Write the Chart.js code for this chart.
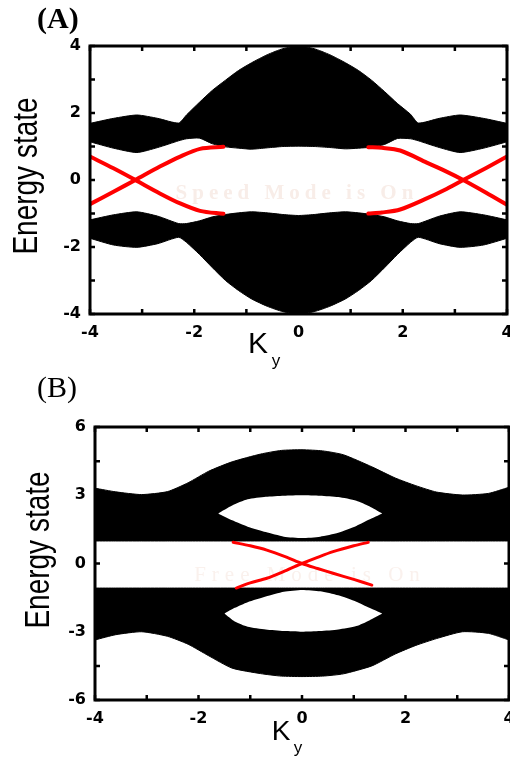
<!DOCTYPE html>
<html>
<head>
<meta charset="utf-8">
<script src="https://cdn.jsdelivr.net/npm/chart.js@4.4.1/dist/chart.umd.min.js"></script>
<style>
  html, body { margin: 0; padding: 0; background: #fff; }
  #wrap { position: relative; width: 510px; height: 757px; overflow: hidden; }
  canvas { position: absolute; left: 0; }
  #panelA { top: 0; }
  #panelB { top: 370px; }
</style>
</head>
<body>
<div id="wrap">
  <canvas id="panelA" width="510" height="375"></canvas>
  <canvas id="panelB" width="510" height="387"></canvas>
</div>
<script>
/* ---------- panel A : band edges ---------- */
const kxA = [-4, -3.55, -3.1, -2.7, -2.3, -2.15, -1.9, -1.65, -1.4, -1.15, -0.9, -0.6, -0.3, 0,
             0.3, 0.6, 0.9, 1.15, 1.4, 1.65, 1.9, 2.15, 2.3, 2.7, 3.1, 3.55, 4];
const upperTopA = [1.69, 1.84, 1.94, 1.84, 1.70, 1.94, 2.32, 2.68, 2.98, 3.27, 3.50, 3.74, 3.92, 4.00,
                   3.92, 3.74, 3.50, 3.27, 2.98, 2.64, 2.28, 1.96, 1.70, 1.84, 1.94, 1.84, 1.69];
const upperBotA = [1.14, 0.95, 0.82, 0.97, 1.17, 1.23, 1.25, 1.08, 0.99, 0.95, 0.92, 0.96, 1.00, 1.01,
                   1.00, 0.97, 0.93, 0.95, 0.98, 1.06, 1.24, 1.23, 1.17, 0.97, 0.82, 0.95, 1.14];
const lowerTopA = [-1.19, -1.04, -0.95, -1.08, -1.30, -1.30, -1.22, -1.10, -1.03, -0.98, -0.95, -0.98, -1.03, -1.06,
                   -1.03, -0.98, -0.95, -0.98, -1.03, -1.10, -1.22, -1.30, -1.30, -1.08, -0.95, -1.04, -1.19];
const lowerBotA = [-1.74, -1.94, -2.01, -1.90, -1.71, -1.86, -2.22, -2.62, -3.00, -3.30, -3.55, -3.77, -3.93, -4.00,
                   -3.93, -3.77, -3.55, -3.30, -3.00, -2.62, -2.22, -1.86, -1.71, -1.90, -2.01, -1.94, -1.74];

// edge states (red)
const edgeA1x = [-4, -3.55, -3.13, -2.66, -2.27, -1.89, -1.44];
const edgeA1y = [0.70, 0.35, 0, -0.40, -0.70, -0.92, -1.01];
const edgeA2x = [-4, -3.55, -3.13, -2.66, -2.27, -1.89, -1.44];
const edgeA2y = [-0.72, -0.35, 0, 0.40, 0.70, 0.93, 0.99];
const edgeA3x = [1.34, 1.6, 1.95, 2.46, 2.8, 3.16, 3.6, 4];
const edgeA3y = [0.98, 0.96, 0.88, 0.52, 0.28, 0, -0.38, -0.74];
const edgeA4x = [1.34, 1.6, 1.95, 2.46, 2.8, 3.16, 3.6, 4];
const edgeA4y = [-1.0, -0.97, -0.88, -0.55, -0.3, 0, 0.36, 0.70];

/* ---------- panel B : band edges ---------- */
const kxB = [-4, -3.6, -3.1, -2.6, -2.2, -1.8, -1.35, -0.8, -0.4, 0, 0.4, 0.8, 1.35, 1.8, 2.2, 2.6, 3.1, 3.6, 4];
const upperTopB = [3.31, 3.15, 3.03, 3.16, 3.55, 4.06, 4.47, 4.81, 4.97, 5.00, 4.95, 4.78, 4.25, 3.76, 3.42, 3.14, 3.01, 3.08, 3.35];
const upperBotB = [0.99, 0.99, 0.99, 0.99, 0.99, 0.99, 0.99, 0.99, 0.99, 0.99, 0.99, 0.99, 0.99, 0.99, 0.99, 0.99, 0.99, 0.99, 0.99];
const lowerTopB = [-1.08, -1.08, -1.08, -1.08, -1.08, -1.08, -1.08, -1.08, -1.08, -1.08, -1.08, -1.08, -1.08, -1.08, -1.08, -1.08, -1.08, -1.08, -1.08];
const lowerBotB = [-3.36, -3.13, -3.00, -3.20, -3.55, -4.06, -4.60, -4.84, -4.95, -4.97, -4.95, -4.85, -4.50, -3.98, -3.60, -3.30, -3.00, -3.07, -3.36];

// gaps inside the bulk bands
const holeUx = [-1.62, -1.35, -1.05, -0.7, -0.35, 0, 0.35, 0.7, 1.05, 1.3, 1.55];
const holeUtop = [2.20, 2.55, 2.82, 2.93, 2.98, 3.00, 2.98, 2.92, 2.76, 2.52, 2.20];
const holeUbot = [2.20, 1.90, 1.62, 1.38, 1.18, 1.12, 1.18, 1.35, 1.65, 1.93, 2.20];
const holeLx = [-1.5, -1.3, -1.05, -0.7, -0.35, 0, 0.35, 0.7, 1.05, 1.3, 1.55];
const holeLtop = [-2.20, -1.95, -1.70, -1.45, -1.24, -1.16, -1.22, -1.40, -1.68, -1.95, -2.20];
const holeLbot = [-2.20, -2.55, -2.78, -2.90, -2.97, -3.00, -2.97, -2.90, -2.75, -2.50, -2.20];

const edgeB1x = [-1.33, -1.0, -0.68, -0.3, 0, 0.3, 0.6, 1.0, 1.35];
const edgeB1y = [0.93, 0.78, 0.59, 0.28, 0, -0.22, -0.43, -0.70, -0.95];
const edgeB2x = [-1.27, -1.0, -0.68, -0.3, 0, 0.3, 0.6, 1.0, 1.28];
const edgeB2y = [-1.08, -0.85, -0.65, -0.30, 0, 0.27, 0.52, 0.78, 0.93];

/* ---------- ticks ---------- */
const xLabels = [-4, -2, 0, 2, 4];
const xMarks = [-4, -3, -2, -1, 0, 1, 2, 3, 4];
const yLabelsA = [-4, -2, 0, 2, 4];
const yMarksA = [-4, -3, -2, -1, 0, 1, 2, 3, 4];
const yLabelsB = [-6, -3, 0, 3, 6];
const yMarksB = [-6, -4.5, -3, -1.5, 0, 1.5, 3, 4.5, 6];

Chart.defaults.color = '#000';
Chart.defaults.font.family = 'DejaVu Sans';

function pts(xs, ys) {
  return xs.map((x, i) => ({ x: x, y: ys[i] }));
}

// filled region between two edges; the first set fills down to the next one
function region(xs, top, bot, color, order) {
  return [
    { data: pts(xs, top), fill: '+1', backgroundColor: color, borderColor: color,
      borderWidth: color === '#000' ? 1 : 0, order: order, tension: 0.2 },
    { data: pts(xs, bot), fill: false, borderColor: color,
      borderWidth: color === '#000' ? 1 : 0, order: order, tension: 0.2 }
  ];
}

function edge(xs, ys, w) {
  return { data: pts(xs, ys), fill: false, borderColor: '#ff0000', borderWidth: w,
           order: 0, tension: 0.3, borderCapStyle: 'round' };
}

// frame and inward tick marks on all four sides
const framePlugin = {
  id: 'frame',
  afterDatasetsDraw(chart, args, o) {
    const ctx = chart.ctx, a = chart.chartArea;
    const sx = chart.scales.x, sy = chart.scales.y;
    ctx.save();
    ctx.strokeStyle = '#000';
    ctx.lineWidth = 2.5;
    ctx.beginPath();
    o.xMarks.forEach(v => {
      const p = sx.getPixelForValue(v);
      ctx.moveTo(p, a.bottom); ctx.lineTo(p, a.bottom - 5);
      ctx.moveTo(p, a.top); ctx.lineTo(p, a.top + 5);
    });
    o.yMarks.forEach(v => {
      const p = sy.getPixelForValue(v);
      ctx.moveTo(a.left, p); ctx.lineTo(a.left + 5, p);
      ctx.moveTo(a.right, p); ctx.lineTo(a.right - 5, p);
    });
    ctx.stroke();
    ctx.lineWidth = 3;
    ctx.strokeRect(a.left, a.top, a.right - a.left, a.bottom - a.top);
    ctx.restore();
  }
};

// panel tag, axis titles and the faint overlay text
const captionPlugin = {
  id: 'captions',
  beforeDatasetsDraw(chart, args, o) {
    const ctx = chart.ctx;
    ctx.save();
    ctx.fillStyle = o.markColor;
    ctx.font = o.markFont;
    ctx.letterSpacing = o.markSpacing;
    ctx.textAlign = 'center';
    ctx.textBaseline = 'middle';
    ctx.fillText(o.mark, o.markAt[0], o.markAt[1]);
    ctx.restore();
  },
  afterDraw(chart, args, o) {
    const ctx = chart.ctx;
    ctx.save();
    ctx.fillStyle = '#000';
    ctx.textBaseline = 'middle';

    ctx.font = o.tagFont;
    ctx.textAlign = 'left';
    ctx.fillText(o.tag, o.tagAt[0], o.tagAt[1]);

    ctx.save();
    ctx.translate(o.yTitleAt[0], o.yTitleAt[1]);
    ctx.rotate(-Math.PI / 2);
    ctx.scale(1, 1.22);
    ctx.font = '28px "Liberation Sans", Arial, sans-serif';
    ctx.textAlign = 'center';
    ctx.fillText('Energy state', 0, 0);
    ctx.restore();

    ctx.textAlign = 'center';
    ctx.font = o.kFont;
    ctx.fillText('K', o.kAt[0], o.kAt[1]);
    ctx.font = '17px "Liberation Sans", Arial, sans-serif';
    ctx.fillText('y', o.subAt[0], o.subAt[1]);
    ctx.restore();
  }
};

function makePanel(id, opt) {
  const tickFont = { family: 'DejaVu Sans', size: 16, weight: 'bold' };
  return new Chart(document.getElementById(id), {
    type: 'scatter',
    data: { datasets: opt.datasets },
    options: {
      responsive: false,
      animation: false,
      events: [],
      showLine: true,
      elements: { point: { radius: 0 } },
      layout: { padding: opt.padding },
      plugins: {
        legend: { display: false },
        tooltip: { enabled: false },
        frame: { xMarks: xMarks, yMarks: opt.yMarks },
        captions: opt.captions
      },
      scales: {
        x: {
          type: 'linear', min: -4, max: 4,
          grid: { display: false, drawTicks: false, tickLength: 0 },
          border: { display: false },
          ticks: { font: tickFont, padding: 9, autoSkip: false, maxRotation: 0, color: '#000' },
          afterBuildTicks: s => { s.ticks = xLabels.map(v => ({ value: v })); },
          afterFit: s => { s.height = opt.xHeight; s.paddingLeft = 0; s.paddingRight = 0; }
        },
        y: {
          type: 'linear', min: opt.yMin, max: opt.yMax,
          grid: { display: false, drawTicks: false, tickLength: 0 },
          border: { display: false },
          ticks: { font: tickFont, padding: 9, autoSkip: false, color: '#000' },
          afterBuildTicks: s => { s.ticks = opt.yLabels.map(v => ({ value: v })); },
          afterFit: s => { s.width = opt.yWidth; }
        }
      }
    },
    plugins: [framePlugin, captionPlugin]
  });
}

makePanel('panelA', {
  yMin: -4, yMax: 4, yLabels: yLabelsA, yMarks: yMarksA,
  padding: { top: 46, right: 3, left: 0, bottom: 0 },
  xHeight: 61, yWidth: 90,
  datasets: [
    edge(edgeA1x, edgeA1y, 4),
    edge(edgeA2x, edgeA2y, 4),
    edge(edgeA3x, edgeA3y, 4),
    edge(edgeA4x, edgeA4y, 4),
    ...region(kxA, upperTopA, upperBotA, '#000', 2),
    ...region(kxA, lowerTopA, lowerBotA, '#000', 2)
  ],
  captions: {
    tag: '(A)', tagAt: [37, 20], tagFont: 'bold 30px "Liberation Serif", serif',
    yTitleAt: [28, 176],
    kFont: '30px "Liberation Sans", Arial, sans-serif', kAt: [258, 345], subAt: [276, 361],
    mark: 'Speed Mode is On', markAt: [297, 194], markSpacing: '5px',
    markFont: 'bold 21px "Liberation Serif", serif', markColor: '#f8ede8'
  }
});

makePanel('panelB', {
  yMin: -6, yMax: 6, yLabels: yLabelsB, yMarks: yMarksB,
  padding: { top: 57, right: 1, left: 0, bottom: 0 },
  xHeight: 57, yWidth: 95,
  datasets: [
    edge(edgeB1x, edgeB1y, 3),
    edge(edgeB2x, edgeB2y, 3),
    ...region(holeUx, holeUtop, holeUbot, '#fff', 1),
    ...region(holeLx, holeLtop, holeLbot, '#fff', 1),
    ...region(kxB, upperTopB, upperBotB, '#000', 2),
    ...region(kxB, lowerTopB, lowerBotB, '#000', 2)
  ],
  captions: {
    tag: '(B)', tagAt: [37, 19], tagFont: '30px "Liberation Serif", serif',
    yTitleAt: [40, 180],
    kFont: '28px "Liberation Sans", Arial, sans-serif', kAt: [281, 362], subAt: [298, 378],
    mark: 'Free Mode is On', markAt: [310, 205], markSpacing: '6px',
    markFont: '21px "Liberation Serif", serif', markColor: '#faf1ed'
  }
});
</script>
</body>
</html>
